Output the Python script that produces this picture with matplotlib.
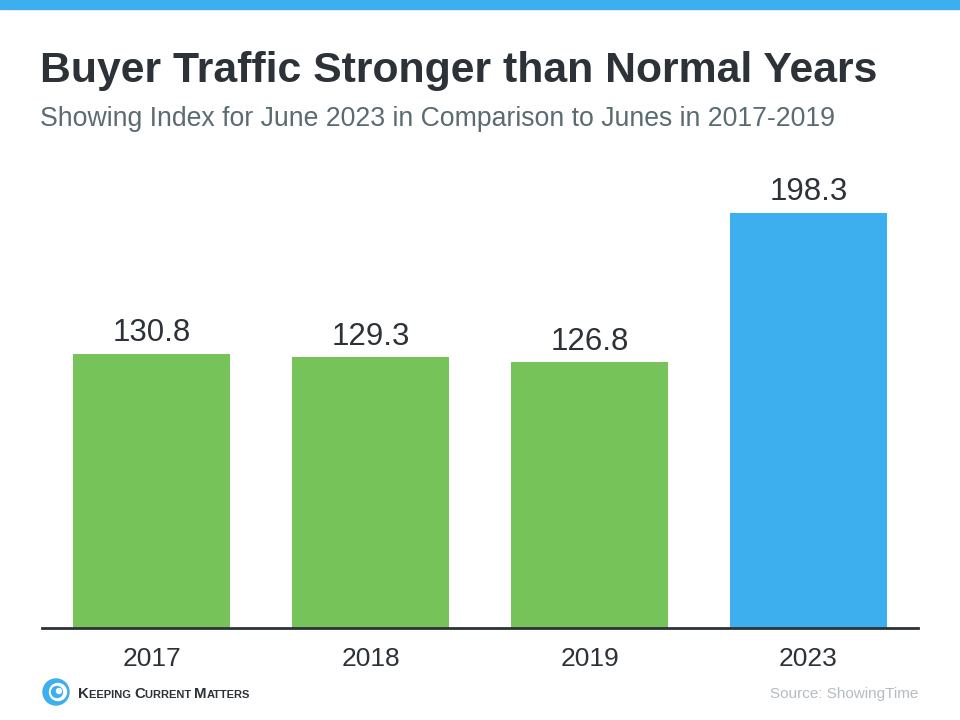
import matplotlib
matplotlib.use("Agg")
import matplotlib.pyplot as plt
from matplotlib.patches import Rectangle, Circle

plt.rcParams['font.family'] = ['Liberation Sans', 'DejaVu Sans']

years = ["2017", "2018", "2019", "2023"]
index_values = [130.8, 129.3, 126.8, 198.3]
bar_colors = ["#76c35a", "#76c35a", "#76c35a", "#3daeee"]

title = "Buyer Traffic Stronger than Normal Years"
subtitle = "Showing Index for June 2023 in Comparison to Junes in 2017-2019"
source = "Source: ShowingTime"

dark = "#2c3238"
W, H = 960, 720

fig = plt.figure(figsize=(9.6, 7.2), dpi=100)
fig.patch.set_facecolor("white")

# blue band across the top
fig.patches.append(Rectangle((0, 1 - 9 / H), 1, 9 / H, transform=fig.transFigure,
                             color="#3daeee", zorder=0))

fig.text(40 / W, 1 - 82 / H, title, fontsize=30.8, fontweight="bold", color=dark,
         ha="left", va="baseline")
fig.text(40 / W, 1 - 126 / H, subtitle, fontsize=19.2, color="#5b6b72",
         ha="left", va="baseline")

ax = fig.add_axes([42 / W, 1 - 628 / H, 876 / W, (628 - 160) / H])
x = range(len(years))
bars = ax.bar(x, index_values, width=0.717, color=bar_colors, zorder=2)
ax.set_xlim(-0.5, len(years) - 0.5)
ax.set_ylim(0, 223.4)

for b, v in zip(bars, index_values):
    ax.annotate(f"{v:.1f}", (b.get_x() + b.get_width() / 2, v),
                xytext=(0, 4), textcoords="offset points",
                ha="center", va="bottom", fontsize=22.5, color=dark)

ax.set_xticks(list(x))
ax.set_xticklabels(years, fontsize=19, color=dark)
ax.tick_params(axis="x", length=0, pad=14)
ax.set_yticks([])
for side in ["top", "left", "right"]:
    ax.spines[side].set_visible(False)
ax.spines["bottom"].set_color(dark)
ax.spines["bottom"].set_linewidth(2)

fig.text(918 / W, 1 - 698 / H, source, fontsize=11, color="#b4bcc0",
         ha="right", va="baseline")

# logo: swirl mark + small caps wordmark
fig.patches.append(Circle((56, 720 - 692), 13, transform=None, color="#3daeee"))
fig.patches.append(Circle((58, 720 - 692), 8.5, transform=None, color="white"))
fig.patches.append(Circle((57, 720 - 692), 5.5, transform=None, color="#3daeee"))
fig.patches.append(Circle((59, 720 - 691), 2.5, transform=None, color="white"))

renderer = fig.canvas.get_renderer()
pieces = [("K", 10.8), ("EEPING ", 8), ("C", 10.8), ("URRENT ", 8), ("M", 10.8), ("ATTERS", 8)]
px = 78
for txt, fs in pieces:
    t = fig.text(px / W, 1 - 698 / H, txt, fontsize=fs, color="#2c3238",
                 fontweight="bold", ha="left", va="baseline")
    px += t.get_window_extent(renderer).width

fig.savefig("out.png", dpi=100, facecolor="white")
